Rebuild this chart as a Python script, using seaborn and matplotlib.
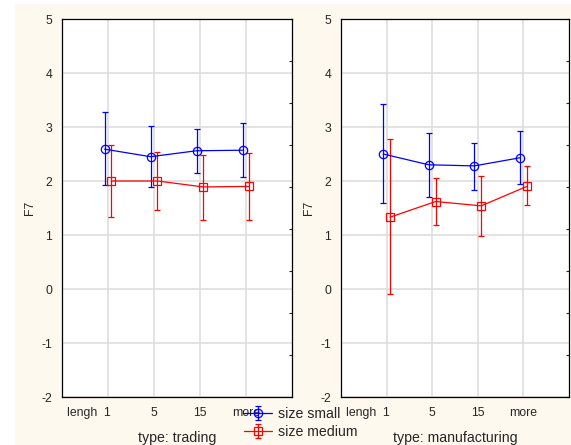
import matplotlib.pyplot as plt
import matplotlib.patches as mpatches
import matplotlib.transforms as mtransforms
import numpy as np
import pandas as pd
import seaborn as sns

# values
lengths = ["lengh  1", "5", "15", "more"]
sizes = ["size small", "size medium"]
types = ["trading", "manufacturing"]

trading_small = [2.59, 2.45, 2.56, 2.57]
trading_small_lo = [1.93, 1.88, 2.15, 2.08]
trading_small_hi = [3.28, 3.01, 2.96, 3.07]
trading_medium = [2.00, 2.00, 1.89, 1.90]
trading_medium_lo = [1.33, 1.46, 1.28, 1.27]
trading_medium_hi = [2.67, 2.54, 2.49, 2.52]

manuf_small = [2.50, 2.30, 2.28, 2.43]
manuf_small_lo = [1.59, 1.71, 1.83, 1.94]
manuf_small_hi = [3.42, 2.89, 2.71, 2.93]
manuf_medium = [1.33, 1.62, 1.54, 1.90]
manuf_medium_lo = [-0.10, 1.19, 0.99, 1.55]
manuf_medium_hi = [2.77, 2.05, 2.10, 2.27]

series = {
    ("trading", "size small"): (trading_small, trading_small_lo, trading_small_hi),
    ("trading", "size medium"): (trading_medium, trading_medium_lo, trading_medium_hi),
    ("manufacturing", "size small"): (manuf_small, manuf_small_lo, manuf_small_hi),
    ("manufacturing", "size medium"): (manuf_medium, manuf_medium_lo, manuf_medium_hi),
}

rows = []
for (t, s), (mean, lo, hi) in series.items():
    for lab, m in zip(lengths, mean):
        rows.append({"type": t, "size": s, "length": lab, "F7": m})
df = pd.DataFrame(rows)

sns.set_style("white")
plt.rcParams["font.family"] = ["Liberation Sans", "DejaVu Sans"]
plt.rcParams["axes.unicode_minus"] = False

palette = {"size small": "#0000FF", "size medium": "#FF0000"}
cream = "#FEF9EE"

fig = plt.figure(figsize=(5.71, 4.45), dpi=100, facecolor="white")
fig.patches.append(mpatches.Rectangle((15 / 571, 0), 1, 1 - 4 / 445, transform=fig.transFigure,
                                      facecolor=cream, edgecolor="none", zorder=-10))

ax_left = fig.add_axes([62 / 571, 1 - 397 / 445, 230 / 571, 378 / 445])
ax_right = fig.add_axes([341 / 571, 1 - 397 / 445, 228 / 571, 378 / 445])

handles = []
for ax, t in zip([ax_left, ax_right], types):
    sub = df[df["type"] == t]
    sns.pointplot(data=sub, x="length", y="F7", hue="size", hue_order=sizes, order=lengths,
                  palette=palette, markers=["o", "s"], linestyles="-", dodge=0.15,
                  errorbar=None, legend=False, ax=ax, linewidth=0.9, markersize=6,
                  markeredgewidth=0.9)
    lines = list(ax.lines)
    for line, s in zip(lines, sizes):
        line.set_markerfacecolor("none")
        line.set_zorder(4)
        xy = line.get_xydata()
        mean, lo, hi = series[(t, s)]
        yerr = [np.array(mean) - np.array(lo), np.array(hi) - np.array(mean)]
        eb = ax.errorbar(xy[:, 0], xy[:, 1], yerr=yerr, fmt="none", ecolor=palette[s],
                         elinewidth=0.9, capsize=2.2, capthick=0.9, zorder=3)
        if t == "trading":
            handles.append((eb, line))

    ax.set_xlim(-1, 4)
    ax.set_ylim(-2, 5)
    ax.set_yticks(range(-2, 6))
    ax.set_facecolor("white")
    ax.grid(True, color="#DEDEDE", linewidth=1.2)
    ax.set_axisbelow(True)
    for sp in ax.spines.values():
        sp.set_color("#000000")
        sp.set_linewidth(0.9)
    ax.tick_params(axis="y", length=0, labelsize=8.8, pad=7)
    ax.tick_params(axis="x", direction="in", length=3, labelsize=8.8, pad=7)
    first = ax.get_xticklabels()[0]
    first.set_horizontalalignment("right")
    first.set_transform(first.get_transform() +
                        mtransforms.ScaledTranslation(3 / 100, 0, fig.dpi_scale_trans))
    ax.set_ylabel("F7", fontsize=8.8, labelpad=4)
    ax.set_xlabel("type: " + t, fontsize=10.2, labelpad=9)

    sec = ax.secondary_yaxis("right")
    sec.set_yticks(np.linspace(-2, 5, 10))
    sec.tick_params(direction="in", length=2.5, labelright=False)
    sec.spines["right"].set_visible(False)

fig.legend(handles, sizes, loc="center left", bbox_to_anchor=(244 / 571, 0.05), frameon=False,
           fontsize=10.2, handlelength=2.0, handletextpad=0.4, labelspacing=0.3,
           borderaxespad=0, borderpad=0)

fig.savefig("out.png", dpi=100, facecolor="white")
